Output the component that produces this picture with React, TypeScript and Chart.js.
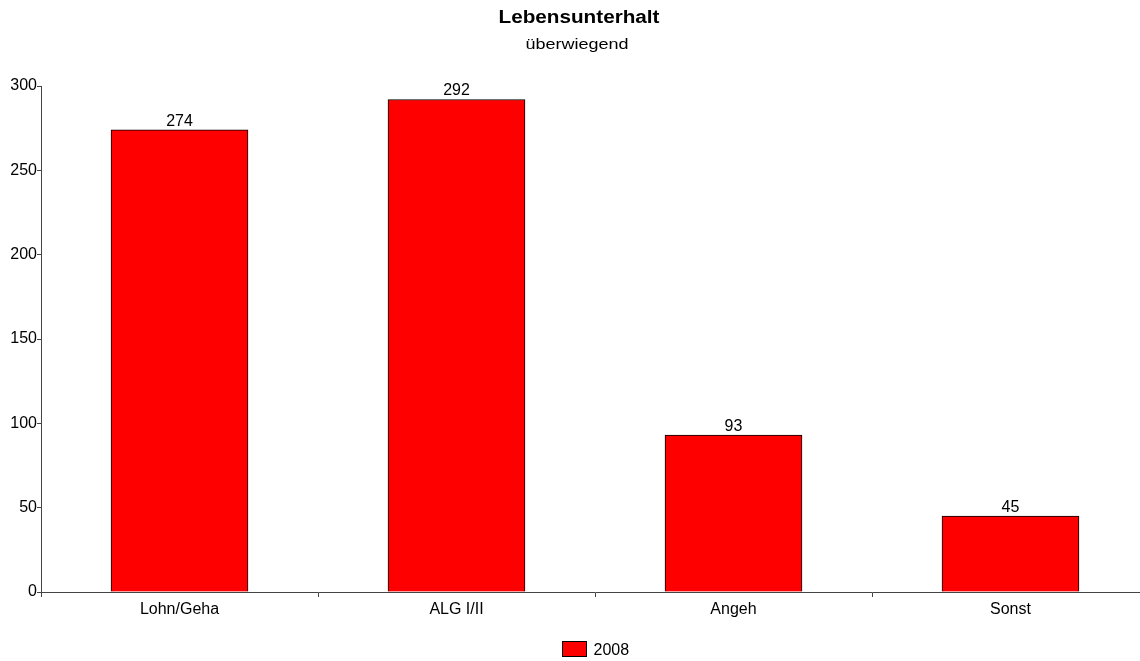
import React, { useEffect, useRef } from "react";
import { Chart, registerables } from "chart.js";

Chart.register(...registerables);

const categories = ["Lohn/Geha", "ALG I/II", "Angeh", "Sonst"];
const series2008 = [274, 292, 93, 45];
const seriesLabel = "2008";
const titleText = "Lebensunterhalt";
const subtitleText = "überwiegend";
const yMax = 300;
const yStep = 50;

const FONT = '"Liberation Sans", Arial, sans-serif';
const AXIS_COLOR = "#444444";
const BAR_COLOR = "#FF0000";

// Values printed above each bar
const valueLabels = {
  id: "valueLabels",
  afterDatasetsDraw(chart: any) {
    const ctx = chart.ctx;
    ctx.save();
    ctx.font = `16px ${FONT}`;
    ctx.fillStyle = "#000";
    ctx.textAlign = "center";
    ctx.textBaseline = "alphabetic";
    chart.data.datasets.forEach((ds: any, di: number) => {
      const meta = chart.getDatasetMeta(di);
      meta.data.forEach((bar: any, i: number) => {
        ctx.fillText(String(ds.data[i]), bar.x, bar.y - 4);
      });
    });
    ctx.restore();
  },
};

// Title, subtitle and legend, drawn with a slight horizontal stretch
const headerAndLegend = {
  id: "headerAndLegend",
  afterDraw(chart: any) {
    const ctx = chart.ctx;
    const area = chart.chartArea;
    ctx.save();
    ctx.fillStyle = "#000";
    ctx.textAlign = "center";
    ctx.textBaseline = "alphabetic";

    ctx.save();
    ctx.translate(579, 23);
    ctx.scale(1.15, 1);
    ctx.font = `bold 18px ${FONT}`;
    ctx.fillText(titleText, 0, 0);
    ctx.restore();

    ctx.save();
    ctx.translate(577, 49);
    ctx.scale(1.2, 1);
    ctx.font = `15px ${FONT}`;
    ctx.fillText(subtitleText, 0, 0);
    ctx.restore();

    // legend entry
    const cx = (area.left + area.right) / 2;
    ctx.font = `16px ${FONT}`;
    const tw = ctx.measureText(seriesLabel).width;
    const boxW = 24;
    const boxH = 15;
    const gap = 7;
    const total = boxW + gap + tw;
    const x0 = Math.round(cx - total / 2) + 0.5;
    const yBox = 641.5;
    ctx.fillStyle = BAR_COLOR;
    ctx.fillRect(x0, yBox, boxW, boxH);
    ctx.strokeStyle = "#000";
    ctx.lineWidth = 1;
    ctx.strokeRect(x0, yBox, boxW, boxH);
    ctx.fillStyle = "#000";
    ctx.textAlign = "left";
    ctx.fillText(seriesLabel, x0 + boxW + gap, 655);
    ctx.restore();
  },
};

export default function App() {
  const canvasRef = useRef<HTMLCanvasElement | null>(null);

  useEffect(() => {
    if (!canvasRef.current) return;
    const chart = new Chart(canvasRef.current, {
      type: "bar",
      data: {
        labels: categories,
        datasets: [
          {
            label: seriesLabel,
            data: series2008,
            backgroundColor: BAR_COLOR,
            borderColor: "#000000",
            borderWidth: 1,
            barThickness: 137,
            categoryPercentage: 1.0,
          },
        ],
      },
      options: {
        responsive: false,
        animation: false,
        devicePixelRatio: 1,
        layout: { padding: { top: 86, left: 0, right: 11, bottom: 29 } },
        plugins: {
          legend: { display: false },
          title: { display: false },
          tooltip: { enabled: false },
        },
        scales: {
          x: {
            grid: {
              display: true,
              offset: true,
              drawOnChartArea: false,
              drawTicks: true,
              tickLength: 5,
              color: AXIS_COLOR,
            },
            border: { display: true, color: AXIS_COLOR, width: 1 },
            ticks: {
              color: "#000",
              font: { family: FONT, size: 16 },
              padding: 3,
              maxRotation: 0,
            },
            afterFit(scale: any) {
              scale.height = 40;
            },
          },
          y: {
            min: 0,
            max: yMax,
            grid: {
              display: true,
              drawOnChartArea: false,
              drawTicks: true,
              tickLength: 4,
              color: AXIS_COLOR,
            },
            border: { display: true, color: AXIS_COLOR, width: 1 },
            ticks: {
              stepSize: yStep,
              color: "#000",
              font: { family: FONT, size: 16 },
              padding: 0,
            },
            afterFit(scale: any) {
              scale.width = 41;
            },
          },
        },
      },
      plugins: [valueLabels, headerAndLegend],
    });
    return () => chart.destroy();
  }, []);

  return (
    <div
      style={{
        position: "fixed",
        left: 0,
        top: 0,
        width: 1140,
        height: 661,
        overflow: "hidden",
        background: "#fff",
      }}
    >
      <canvas ref={canvasRef} width={1160} height={661} style={{ display: "block" }} />
    </div>
  );
}
